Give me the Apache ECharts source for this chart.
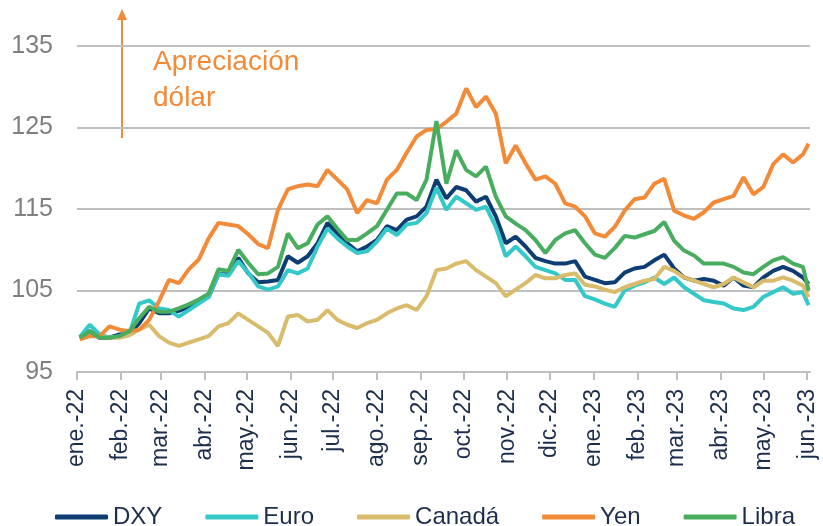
<!DOCTYPE html>
<html>
<head>
<meta charset="utf-8">
<script src="https://cdn.jsdelivr.net/npm/echarts@6/dist/echarts.min.js"></script>
<style>
  html, body { margin: 0; padding: 0; background: #fff; }
  #chart { width: 823px; height: 526px; }
</style>
</head>
<body>
<div id="chart"></div>
<script>
// month tick labels (one per month start, ene.-22 .. jun.-23)
var monthLabels = ['ene.-22', 'feb.-22', 'mar.-22', 'abr.-22', 'may.-22', 'jun.-22',
    'jul.-22', 'ago.-22', 'sep.-22', 'oct.-22', 'nov.-22', 'dic.-22',
    'ene.-23', 'feb.-23', 'mar.-23', 'abr.-23', 'may.-23', 'jun.-23'];

// weekly readings from 3 Jan 2022, last one on 2 Jun 2023
var dxyData = [99.2, 100.0, 99.2, 99.2, 99.6, 99.7, 101.0, 102.8, 102.2, 102.2, 102.5, 103.0, 103.7, 104.2, 107.0, 107.0, 109.0, 107.1, 106.0,
    106.1, 106.3, 109.2, 108.4, 109.2, 110.8, 113.3, 112.0, 110.8, 109.8, 110.4, 111.2, 112.9, 112.4, 113.7, 114.1, 115.3, 118.6,
    116.3, 117.7, 117.3, 115.9, 116.5, 114.1, 110.8, 111.6, 110.4, 109.0, 108.6, 108.3, 108.3, 108.6, 106.7, 106.3, 105.9, 106.0,
    107.2, 107.7, 107.9, 108.7, 109.4, 107.7, 106.6, 106.2, 106.4, 106.2, 105.6, 106.6, 105.6, 105.4, 106.6, 107.4, 107.9, 107.4, 106.6, 105.8];

var euroData = [99.3, 100.8, 99.6, 99.2, 99.4, 99.7, 103.4, 103.8, 102.8, 102.6, 101.8, 102.6, 103.4, 104.2, 107.0, 106.8, 108.6, 107.2, 105.5,
    105.1, 105.5, 107.5, 107.1, 107.7, 110.4, 112.6, 111.4, 110.4, 109.6, 109.8, 111.0, 112.6, 111.8, 113.1, 113.3, 114.5, 117.6,
    114.9, 116.5, 115.7, 114.9, 115.3, 112.8, 109.2, 110.4, 109.2, 107.9, 107.5, 107.1, 106.3, 106.3, 104.3, 103.9, 103.4, 103.0,
    105.0, 105.6, 106.0, 106.6, 105.8, 106.6, 105.4, 104.6, 103.8, 103.6, 103.4, 102.8, 102.6, 103.0, 104.2, 104.8, 105.4, 104.6, 104.8, 103.2];

var canadaData = [99.0, 99.6, 99.3, 99.2, 99.2, 99.5, 100.2, 100.8, 99.4, 98.6, 98.2, 98.6, 99.0, 99.4, 100.6, 101.0, 102.2, 101.4, 100.6,
    99.8, 98.2, 101.8, 102.0, 101.2, 101.4, 102.6, 101.4, 100.8, 100.4, 101.0, 101.4, 102.2, 102.8, 103.2, 102.6, 104.3, 107.5,
    107.7, 108.3, 108.6, 107.5, 106.7, 105.9, 104.3, 105.1, 105.9, 106.9, 106.5, 106.5, 106.9, 107.1, 105.7, 105.5, 105.1, 104.8,
    105.4, 105.8, 106.2, 106.4, 107.9, 107.4, 106.6, 106.2, 105.8, 105.4, 105.8, 106.6, 106.0, 105.4, 106.2, 106.2, 106.6, 106.2, 105.6, 104.2];

var yenData = [99.0, 99.4, 99.4, 100.6, 100.2, 100.0, 100.2, 101.4, 103.7, 106.3, 105.9, 107.6, 108.8, 111.4, 113.3, 113.1, 112.9, 111.9, 110.7,
    110.2, 114.9, 117.4, 117.8, 118.0, 117.8, 119.8, 118.6, 117.4, 114.5, 116.1, 115.7, 118.6, 119.8, 121.9, 123.9, 124.7, 124.8,
    125.7, 126.7, 129.8, 127.5, 128.8, 126.7, 120.6, 122.8, 120.6, 118.6, 119.0, 118.1, 115.7, 115.3, 114.1, 112.0, 111.6, 112.8,
    114.8, 116.2, 116.4, 118.1, 118.7, 114.8, 114.2, 113.8, 114.6, 115.8, 116.2, 116.6, 118.9, 116.8, 117.7, 120.5, 121.7, 120.7, 121.7, 123.0];

var libraData = [99.2, 100.0, 99.2, 99.2, 99.4, 100.0, 101.6, 103.0, 102.4, 102.4, 102.8, 103.3, 103.9, 104.6, 107.6, 107.4, 110.0, 108.4, 107.0,
    107.1, 107.9, 112.0, 110.2, 110.8, 113.1, 114.1, 112.6, 111.2, 111.2, 112.0, 112.9, 114.9, 116.9, 116.9, 116.1, 118.6, 125.8,
    118.1, 122.2, 119.8, 119.0, 120.2, 116.5, 114.1, 113.2, 112.4, 111.2, 109.6, 111.2, 112.0, 112.4, 110.8, 109.4, 109.0, 110.2,
    111.7, 111.5, 111.9, 112.3, 113.4, 111.1, 109.9, 109.3, 108.3, 108.3, 108.3, 107.9, 107.2, 107.0, 107.9, 108.7, 109.1, 108.3, 107.9, 105.0];

var yTicks = [95, 105, 115, 125, 135];

// dates for the weekly points
var dates = [];
for (var i = 0; i < dxyData.length - 1; i++) {
    dates.push(new Date(2022, 0, 3 + i * 7).getTime());
}
dates.push(new Date(2023, 5, 2).getTime());

// month starts for ticks
var monthTicks = [];
for (var m = 0; m < monthLabels.length; m++) {
    monthTicks.push(new Date(2022, m, 1).getTime());
}

function pairUp(values) {
    var out = [];
    for (var i = 0; i < values.length; i++) {
        out.push([dates[i], values[i]]);
    }
    return out;
}

var sansFont = "'Liberation Sans', Arial, sans-serif";
var navyText = '#1d2e4c';
var orange = '#f28a37';

function makeSeries(name, color, values) {
    return {
        name: name,
        type: 'line',
        showSymbol: false,
        symbol: 'none',
        lineStyle: { width: 4, color: color },
        itemStyle: { color: color },
        data: pairUp(values)
    };
}

var chart = echarts.init(document.getElementById('chart'));

chart.setOption({
    animation: false,
    grid: { left: 77, right: 13, top: 46, bottom: 154 },
    xAxis: {
        type: 'value',
        min: new Date(2022, 0, 1).getTime(),
        max: new Date(2023, 5, 3).getTime(),
        axisLine: { lineStyle: { color: '#bfbfbf', width: 2 } },
        axisTick: {
            show: true,
            length: 8,
            customValues: monthTicks,
            lineStyle: { color: '#bfbfbf', width: 2 }
        },
        axisLabel: {
            customValues: monthTicks,
            rotate: 90,
            margin: 17,
            color: navyText,
            fontSize: 23,
            fontFamily: sansFont,
            formatter: function (value) {
                var idx = monthTicks.indexOf(value);
                return idx >= 0 ? monthLabels[idx] : '';
            }
        },
        splitLine: { show: false }
    },
    yAxis: {
        type: 'value',
        min: yTicks[0],
        max: yTicks[yTicks.length - 1],
        interval: 10,
        axisLine: { show: false },
        axisTick: { show: false },
        axisLabel: {
            color: '#7f7f7f',
            fontSize: 25,
            fontFamily: sansFont,
            margin: 24
        },
        splitLine: { lineStyle: { color: '#bfbfbf', width: 2 } }
    },
    legend: {
        left: 50,
        top: 500,
        icon: 'roundRect',
        itemWidth: 53,
        itemHeight: 5,
        itemGap: 43,
        textStyle: { color: navyText, fontSize: 24, fontFamily: sansFont },
        data: ['DXY', 'Euro', 'Canadá', 'Yen', 'Libra']
    },
    graphic: [
        {
            type: 'line',
            shape: { x1: 122, y1: 138, x2: 122, y2: 18 },
            style: { stroke: orange, lineWidth: 2 }
        },
        {
            type: 'polygon',
            shape: { points: [[122, 9], [117, 20], [127, 20]] },
            style: { fill: orange }
        },
        {
            type: 'text',
            left: 153,
            top: 44,
            style: {
                text: 'Apreciación\ndólar',
                fill: orange,
                fontSize: 28,
                lineHeight: 36,
                fontFamily: sansFont
            }
        }
    ],
    series: [
        makeSeries('DXY', '#0d3d73', dxyData),
        makeSeries('Euro', '#35c8c8', euroData),
        makeSeries('Canadá', '#d8bc6c', canadaData),
        makeSeries('Yen', orange, yenData),
        makeSeries('Libra', '#48ad5f', libraData)
    ]
});
</script>
</body>
</html>
